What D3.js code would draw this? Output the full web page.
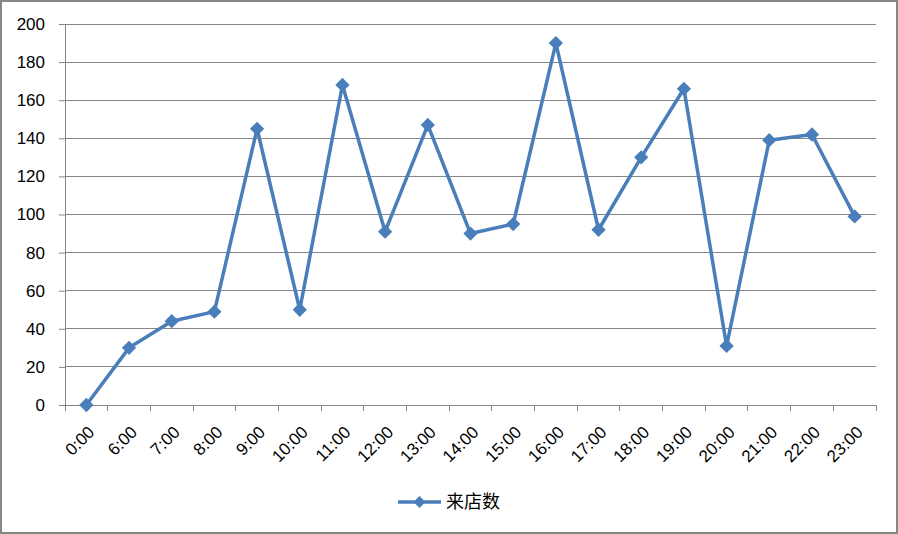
<!DOCTYPE html>
<html><head><meta charset="utf-8">
<script src="https://cdn.jsdelivr.net/npm/d3@7"></script>
<style>body{margin:0;background:#fff}svg{display:block}</style>
</head><body>
<svg id="c" width="898" height="534"></svg>
<script>
const categories = ["0:00","6:00","7:00","8:00","9:00","10:00","11:00","12:00","13:00","14:00","15:00","16:00","17:00","18:00","19:00","20:00","21:00","22:00","23:00"];
const values = [0,30,44,49,145,50,168,91,147,90,95,190,92,130,166,31,139,142,99];
const yTicks = [0,20,40,60,80,100,120,140,160,180,200];
const seriesName = "来店数";

const svg = d3.select("#c");
const W = 898, H = 534;
const color = "#4a7ebb";
const font = "'Liberation Sans', Arial, sans-serif";
svg.append("rect").attr("x",1).attr("y",1).attr("width",W-2).attr("height",H-2)
  .attr("fill","#fff").attr("stroke","#868686").attr("stroke-width",2);

const L = 65, R = 876, T = 24, B = 405;
const x = d3.scaleBand().domain(categories).range([L, R]);
const y = d3.scaleLinear().domain([0,200]).range([B, T]);

// gridlines
svg.append("g").selectAll("line").data(yTicks.filter(d=>d>0)).join("line")
  .attr("x1",L).attr("x2",R).attr("y1",d=>y(d)).attr("y2",d=>y(d))
  .attr("stroke","#868686").attr("stroke-width",1).attr("shape-rendering","crispEdges");

// y axis
const ya = svg.append("g").attr("transform",`translate(${L},0)`)
  .call(d3.axisLeft(y).tickValues(yTicks).tickSize(6).tickPadding(14));
ya.select(".domain").attr("stroke","#868686");
ya.selectAll(".tick line").attr("stroke","#868686");
ya.selectAll("text").attr("font-family",font).attr("font-size",17).attr("fill","#000");

// x axis
const edges = categories.map(c=>x(c)).concat([R]);
const xa = svg.append("g");
xa.append("line").attr("x1",L).attr("x2",R).attr("y1",B).attr("y2",B)
  .attr("stroke","#868686").attr("shape-rendering","crispEdges");
xa.selectAll("line.t").data(edges).join("line").attr("class","t")
  .attr("x1",d=>d).attr("x2",d=>d).attr("y1",B).attr("y2",B+6)
  .attr("stroke","#868686").attr("shape-rendering","crispEdges");
xa.selectAll("text").data(categories).join("text")
  .attr("transform",d=>`translate(${x(d)+x.bandwidth()/2+5},${B+24}) rotate(-45)`)
  .attr("text-anchor","end").attr("dy","0.35em")
  .attr("font-family",font).attr("font-size",17).attr("fill","#000").text(d=>d);

// line
const pts = categories.map((c,i)=>[x(c)+x.bandwidth()/2, y(values[i])]);
svg.append("path").attr("d",d3.line()(pts)).attr("fill","none")
  .attr("stroke",color).attr("stroke-width",3.5).attr("stroke-linejoin","round");
const diamond = d3.symbol().type(d3.symbolDiamond2).size(130);
svg.append("g").selectAll("path").data(pts).join("path")
  .attr("d",diamond()).attr("transform",d=>`translate(${d[0]},${d[1]})`).attr("fill",color);

// legend
const lg = svg.append("g");
lg.append("line").attr("x1",398).attr("x2",441).attr("y1",502).attr("y2",502)
  .attr("stroke",color).attr("stroke-width",3.5);
lg.append("path").attr("d",d3.symbol().type(d3.symbolDiamond2).size(90)())
  .attr("transform","translate(419.5,502)").attr("fill",color);
lg.append("text").attr("x",446).attr("y",502).attr("dy","0.35em")
  .attr("font-family","'Noto Sans CJK SC', sans-serif").attr("font-size",18).text(seriesName);
</script>
</body></html>
